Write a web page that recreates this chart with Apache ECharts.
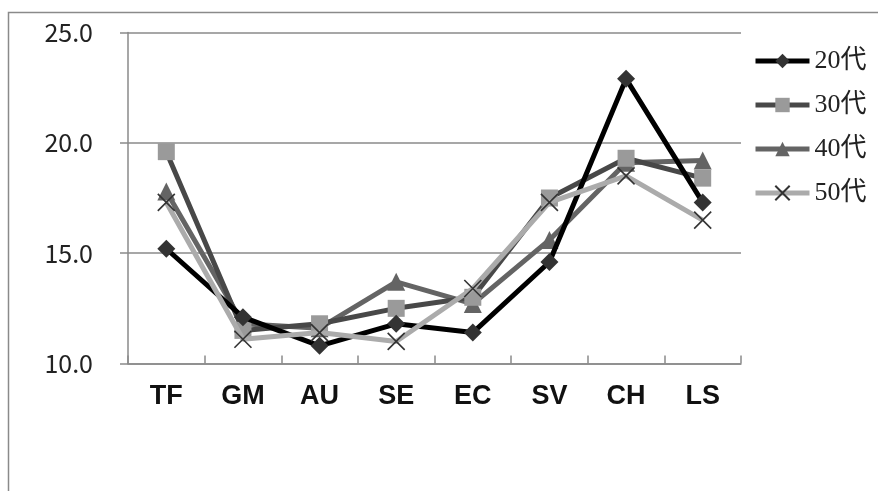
<!DOCTYPE html>
<html>
<head>
<meta charset="utf-8">
<script src="https://cdn.jsdelivr.net/npm/echarts@6/dist/echarts.min.js"></script>
<style>
  html, body { margin: 0; padding: 0; background: #fff; }
  #chart { width: 878px; height: 491px; }
</style>
</head>
<body>
<div id="chart"></div>
<script>
// Category labels along the x axis
const categories = ['TF', 'GM', 'AU', 'SE', 'EC', 'SV', 'CH', 'LS'];

// Scores per age group
const age20 = [15.2, 12.1, 10.8, 11.8, 11.4, 14.6, 22.9, 17.3];
const age30 = [19.6, 11.5, 11.8, 12.5, 13.0, 17.5, 19.3, 18.4];
const age40 = [17.8, 11.8, 11.6, 13.7, 12.7, 15.6, 19.1, 19.2];
const age50 = [17.3, 11.1, 11.4, 11.0, 13.4, 17.3, 18.5, 16.5];

// Series names and y-axis tick values
const seriesNames = ['20代', '30代', '40代', '50代'];
const yTicks = [10, 15, 20, 25];

const crossPath = 'path://M0,0L10,10M10,0L0,10';

const chart = echarts.init(document.getElementById('chart'), null, { renderer: 'canvas' });

chart.setOption({
  backgroundColor: '#ffffff',
  animation: false,
  graphic: [{
    type: 'rect',
    shape: { x: 8.5, y: 12.5, width: 1000, height: 1000 },
    style: { fill: 'none', stroke: '#8a8a8a', lineWidth: 1.5 },
    silent: true,
    z: -10
  }],
  grid: { left: 128, right: 137, top: 32.5, bottom: 127.5, containLabel: false },
  legend: {
    orient: 'vertical',
    left: 748,
    top: 43,
    itemWidth: 54,
    itemHeight: 18,
    itemGap: 18,
    lineStyle: { width: 5 },
    textStyle: {
      fontFamily: '"Liberation Serif", "Noto Sans CJK JP", serif',
      fontSize: 26,
      color: '#222',
      lineHeight: 26
    },
    data: seriesNames
  },
  xAxis: {
    type: 'category',
    data: categories,
    boundaryGap: true,
    axisLine: { show: true, lineStyle: { color: '#8a8a8a', width: 1.5 } },
    axisTick: { show: true, inside: true, length: 8, lineStyle: { color: '#8a8a8a', width: 1.5 } },
    axisLabel: {
      margin: 20,
      fontFamily: '"Liberation Sans", Arial, sans-serif',
      fontWeight: 'bold',
      fontSize: 27,
      color: '#111'
    },
    splitLine: { show: false }
  },
  yAxis: {
    type: 'value',
    min: yTicks[0],
    max: yTicks[yTicks.length - 1],
    interval: yTicks[1] - yTicks[0],
    axisLine: { show: true, lineStyle: { color: '#8a8a8a', width: 1.5 } },
    axisTick: { show: true, inside: false, length: 8, lineStyle: { color: '#8a8a8a', width: 1.5 } },
    axisLabel: {
      margin: 35,
      fontFamily: '"Noto Sans CJK JP", sans-serif',
      fontSize: 25,
      color: '#222',
      formatter: v => v.toFixed(1)
    },
    splitLine: { show: true, lineStyle: { color: '#8a8a8a', width: 1.5 } }
  },
  series: [
    {
      name: seriesNames[0],
      type: 'line',
      data: age20,
      symbol: 'diamond',
      symbolSize: 18,
      lineStyle: { color: '#000000', width: 5 },
      itemStyle: { color: '#333333' },
      z: 4
    },
    {
      name: seriesNames[1],
      type: 'line',
      data: age30,
      symbol: 'rect',
      symbolSize: 17,
      lineStyle: { color: '#484848', width: 5 },
      itemStyle: { color: '#9a9a9a' },
      z: 3
    },
    {
      name: seriesNames[2],
      type: 'line',
      data: age40,
      symbol: 'triangle',
      symbolSize: 18,
      lineStyle: { color: '#646464', width: 5 },
      itemStyle: { color: '#646464' },
      z: 2
    },
    {
      name: seriesNames[3],
      type: 'line',
      data: age50,
      symbol: crossPath,
      symbolSize: 17,
      lineStyle: { color: '#ababab', width: 5 },
      itemStyle: { color: 'rgba(0,0,0,0)', borderColor: '#333333', borderWidth: 1.6 },
      z: 5
    }
  ]
});
</script>
</body>
</html>
